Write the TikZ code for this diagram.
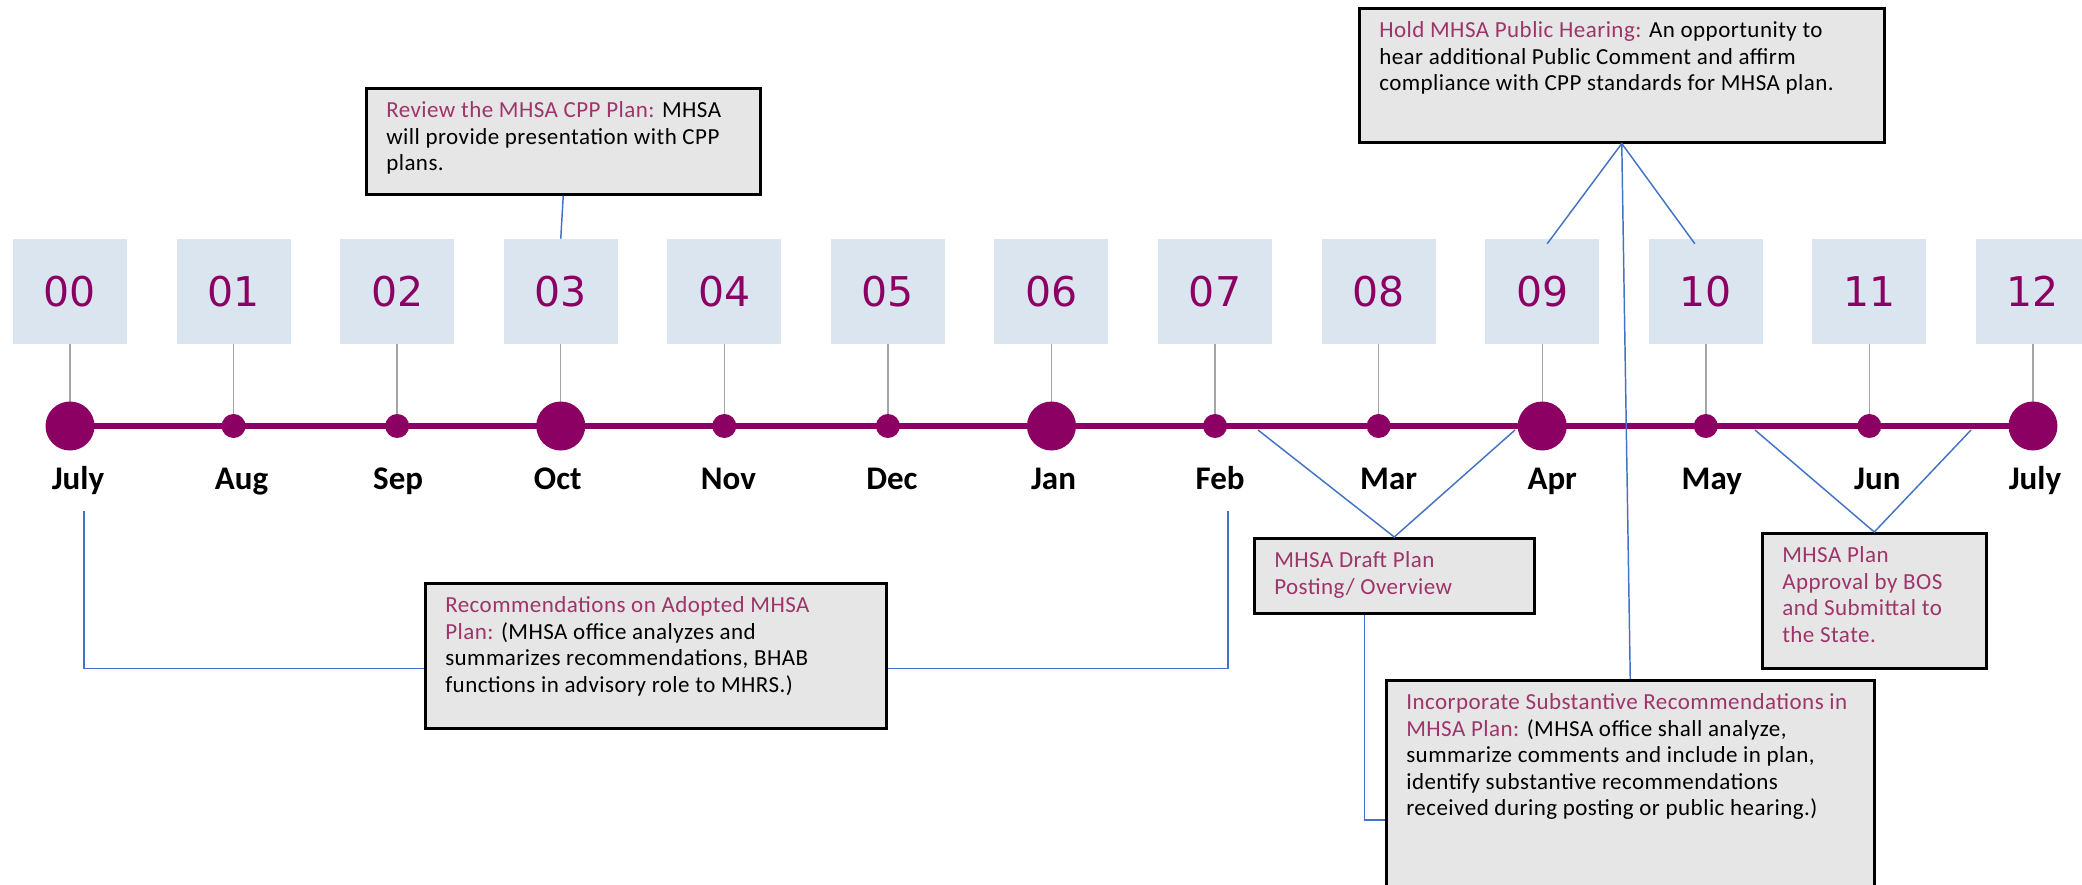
\documentclass[tikz,border=0pt]{standalone}
\usepackage{fontspec}
\setmainfont{Carlito}
\newfontfamily\numfont{DejaVu Sans}
\newfontfamily\notefont{Carlito}[LetterSpace=2]
\usepackage{xcolor}
\usepackage{tikz}
\definecolor{plum}{RGB}{140,0,100}
\definecolor{headplum}{RGB}{158,52,106}
\definecolor{linkblue}{RGB}{68,114,196}
\definecolor{stemgray}{RGB}{165,165,165}
\definecolor{notegray}{RGB}{230,230,230}
\definecolor{yearblue}{RGB}{219,229,240}
\newcommand{\notetext}[3]{\parbox[b][#1][t]{#2}{\begin{tabular}[t]{@{}l@{}}#3\end{tabular}}}
\newcommand{\notehead}[1]{\textcolor{headplum}{#1}}

\begin{document}
\begin{tikzpicture}[x=0.75pt,y=0.75pt,yscale=-1,xscale=1,
    yearbox/.style={fill=yearblue, minimum width=85.5pt, minimum height=78.75pt, inner sep=0pt, text=plum, font=\numfont\fontsize{30.75}{36}\selectfont},
    bigdot/.style={circle, fill=plum, minimum size=36.75pt, inner sep=0pt},
    smalldot/.style={circle, fill=plum, minimum size=18pt, inner sep=0pt},
    month/.style={anchor=base, inner sep=0pt, font=\bfseries\fontsize{24.75}{28}\selectfont},
    note/.style={draw=black, line width=1.9pt, fill=notegray, anchor=north west, inner xsep=15pt, inner ysep=8.25pt, font=\notefont\fontsize{17.25}{19.9}\selectfont},
    stem/.style={draw=stemgray, line width=1.1pt},
    timeline/.style={draw=plum, line width=4.5pt},
    link/.style={draw=linkblue, line width=1.1pt}]

    \useasboundingbox (0,0) rectangle (2082,885);
    \clip (0,0) rectangle (2082,885);

        \foreach \i/\num in {0/00,1/01,2/02,3/03,4/04,5/05,6/06,7/07,8/08,9/09,10/10,11/11,12/12} {
            \node[yearbox] (n\i) at ({70+\i*163.58},291.5) {\num};
            \coordinate (c\i) at ({70+\i*163.58},426);
            \draw[stem] (n\i.south) -- (c\i);
        }
        \draw[timeline] (c0) -- (c12);
        \foreach \i in {1,2,4,5,7,8,10,11} \node[smalldot] (d\i) at (c\i) {};
        \foreach \i in {0,3,6,9,12} \node[bigdot] (d\i) at (c\i) {};
        \foreach \i/\mon/\dx in {0/July/8,1/Aug/8,2/Sep/1,3/Oct/-3,4/Nov/4,5/Dec/4,6/Jan/2,7/Feb/5,8/Mar/10,9/Apr/10,10/May/6,11/Jun/8,12/July/2}
            \node[month] (m\i) at ({70+\i*163.58+\dx},489) {\mon};

        \node[note] (review) at (365,87) {\notetext{63pt}{265.5pt}{\notehead{Review the MHSA CPP Plan:} MHSA\\ will provide presentation with CPP\\ plans.}};
        \node[note] (hear) at (1358,7) {\notetext{84pt}{363.75pt}{\notehead{Hold MHSA Public Hearing:} An opportunity to\\ hear additional Public Comment and affirm\\ compliance with CPP standards for MHSA plan.}};
        \node[note] (adopt) at (424,582) {\notetext{92.25pt}{315.75pt}{\notehead{Recommendations on Adopted MHSA}\\ \notehead{Plan:} (MHSA office analyzes and\\ summarizes recommendations, BHAB\\ functions in advisory role to MHRS.)}};
        \node[note] (draft) at (1253,537) {\notetext{39.75pt}{180pt}{\notehead{MHSA Draft Plan}\\ \notehead{Posting/ Overview}}};
        \node[note] (approve) at (1761,532) {\notetext{84.75pt}{138pt}{\notehead{MHSA Plan}\\ \notehead{Approval by BOS}\\ \notehead{and Submittal to}\\ \notehead{the State.}}};
        \node[note] (incorp) at (1385,679) {\notetext{179.25pt}{336pt}{\notehead{Incorporate Substantive Recommendations in}\\ \notehead{MHSA Plan:} (MHSA office shall analyze,\\ summarize comments and include in plan,\\ identify substantive recommendations\\ received during posting or public hearing.)}};

        \coordinate (jul0) at (84,511);
        \coordinate (feb0) at (1228,511);
        \coordinate (feb1) at (1258,430);
        \coordinate (apr1) at (1515,430);
        \coordinate (may1) at (1755,430);
        \coordinate (jun1) at (1971,430);

        \draw[link] (review.south) -- (n3.north);
        \draw[link] ([shift={(5,5)}]n9.north) -- (hear.south) -- ([shift={(-11,5)}]n10.north);
        \draw[link] (hear.south) -- (incorp.north);
        \draw[link] (jul0) |- ([shift={(0,12.5)}]adopt.west);
        \draw[link] ([shift={(0,12.5)}]adopt.east) -| (feb0);
        \draw[link] (feb1) -- (draft.north) -- (apr1);
        \draw[link] ([shift={(-30,0)}]draft.south) |- ([shift={(0,141)}]incorp.north west);
        \draw[link] (may1) -- (approve.north) -- (jun1);
    \end{tikzpicture}
\end{document}
